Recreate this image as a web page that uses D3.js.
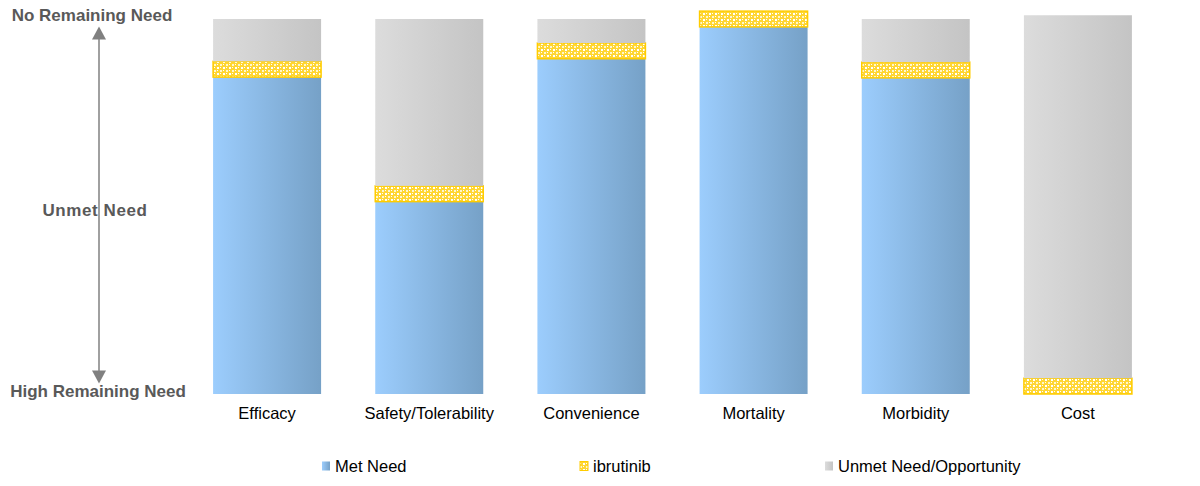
<!DOCTYPE html>
<html>
<head>
<meta charset="utf-8">
<script src="https://cdn.jsdelivr.net/npm/d3@7/dist/d3.min.js"></script>
<style>
  html, body { margin: 0; padding: 0; background: #fff; }
  svg { display: block; font-family: "Liberation Sans", Arial, sans-serif; }
</style>
</head>
<body>
<div id="chart"></div>
<script>
// ── Data ────────────────────────────────────────────────────────────────
const categories = ["Efficacy", "Safety/Tolerability", "Convenience", "Mortality", "Morbidity", "Cost"];
const metNeed    = [84.5, 51.3, 89.4, 97.9, 84.3, 0];
const ibrutinib  = [4.2, 4.2, 4.2, 4.2, 4.2, 4.2];
const unmetNeed  = [11.3, 44.5, 6.4, 0, 11.5, 96.8];
const seriesNames = ["Met Need", "ibrutinib", "Unmet Need/Opportunity"];
const needLabels = ["No Remaining Need", "Unmet Need", "High Remaining Need"];

// ── Palette ─────────────────────────────────────────────────────────────
const TEXT_C  = "#595959";
const ARROW_C = "#808080";
const YELLOW  = "#ffcc00";

const W = 1200, H = 486;
const svg = d3.select("#chart").append("svg")
  .attr("width", W).attr("height", H);

const defs = svg.append("defs");

// gradients
function hGradient(id, c0, c1) {
  const g = defs.append("linearGradient").attr("id", id)
    .attr("x1", "0%").attr("x2", "100%").attr("y1", "0%").attr("y2", "0%");
  g.append("stop").attr("offset", "0%").attr("stop-color", c0);
  g.append("stop").attr("offset", "100%").attr("stop-color", c1);
}
hGradient("gradBlue", "#9ccdfd", "#76a1c7");
hGradient("gradGray", "#dcdcdc", "#c4c4c4");

// lattice pattern for ibrutinib
const pat = defs.append("pattern").attr("id", "patYellow")
  .attr("patternUnits", "userSpaceOnUse").attr("width", 6).attr("height", 6);
pat.append("rect").attr("width", 6).attr("height", 6).attr("fill", "#ffd633");
pat.append("rect").attr("x", 1).attr("y", 1).attr("width", 2).attr("height", 2).attr("fill", "#ffffff");
pat.append("rect").attr("x", 4).attr("y", 4).attr("width", 2).attr("height", 2).attr("fill", "#fff6cc");
pat.append("rect").attr("x", 4).attr("y", 1).attr("width", 1).attr("height", 1).attr("fill", "#ffffff");
pat.append("rect").attr("x", 1).attr("y", 4).attr("width", 1).attr("height", 1).attr("fill", "#ffffff");

const fills = ["url(#gradBlue)", "url(#patYellow)", "url(#gradGray)"];

// ── Scales ──────────────────────────────────────────────────────────────
const x = d3.scaleBand()
  .domain(categories)
  .range([186, 1159])
  .paddingInner(0.334)
  .paddingOuter(0.167);

const y = d3.scaleLinear()
  .domain([0, 100])
  .range([394, 19]);

const rows = categories.map((c, i) => ({
  cat: c, met: metNeed[i], ibr: ibrutinib[i], unmet: unmetNeed[i]
}));
const stack = d3.stack().keys(["met", "ibr", "unmet"]);
const layers = stack(rows);

// ── Bars ────────────────────────────────────────────────────────────────
layers.forEach((layer, li) => {
  const g = svg.append("g");
  g.selectAll("rect").data(layer.filter(d => d[1] - d[0] > 0)).enter().append("rect")
    .attr("x", d => x(d.data.cat))
    .attr("y", d => y(d[1]))
    .attr("width", x.bandwidth())
    .attr("height", d => y(d[0]) - y(d[1]))
    .attr("fill", fills[li])
    .attr("stroke", li === 1 ? YELLOW : "none")
    .attr("stroke-width", li === 1 ? 1.5 : 0);
});

// ── Category labels ─────────────────────────────────────────────────────
svg.append("g").selectAll("text").data(categories).enter().append("text")
  .attr("x", d => x(d) + x.bandwidth() / 2)
  .attr("y", 413)
  .attr("dy", "0.35em")
  .attr("text-anchor", "middle")
  .attr("fill", "#000")
  .style("font-size", "16.5px")
  .text(d => d);

// ── Left need arrow ─────────────────────────────────────────────────────
const ax = 99;
svg.append("line")
  .attr("x1", ax).attr("x2", ax)
  .attr("y1", 38).attr("y2", 372)
  .attr("stroke", ARROW_C).attr("stroke-width", 1.5);
svg.append("path")
  .attr("d", `M${ax},26.5 L${ax - 7},39.5 L${ax + 7},39.5 Z`)
  .attr("fill", ARROW_C);
svg.append("path")
  .attr("d", `M${ax},383.5 L${ax - 7},370.5 L${ax + 7},370.5 Z`)
  .attr("fill", ARROW_C);

const needY = [15, 210, 391];
const needX = [92, 95, 98];
const needSpacing = [0, 0.6, 0];
svg.append("g").selectAll("text").data(needLabels).enter().append("text")
  .attr("x", (d, i) => needX[i])
  .attr("y", (d, i) => needY[i])
  .attr("dy", "0.35em")
  .attr("text-anchor", "middle")
  .attr("fill", TEXT_C)
  .style("font-size", "17px")
  .style("font-weight", "bold")
  .style("letter-spacing", (d, i) => needSpacing[i] + "px")
  .text(d => d);

// ── Legend ──────────────────────────────────────────────────────────────
const legendX = [322, 580, 825];
const lg = svg.append("g");
seriesNames.forEach((name, i) => {
  lg.append("rect")
    .attr("x", legendX[i]).attr("y", 461.5)
    .attr("width", 8).attr("height", 9)
    .attr("fill", fills[i])
    .attr("stroke", i === 1 ? YELLOW : "none")
    .attr("stroke-width", i === 1 ? 1 : 0);
  lg.append("text")
    .attr("x", legendX[i] + 13).attr("y", 466)
    .attr("dy", "0.35em")
    .attr("fill", "#000")
    .style("font-size", "16.5px")
    .text(name);
});
</script>
</body>
</html>
